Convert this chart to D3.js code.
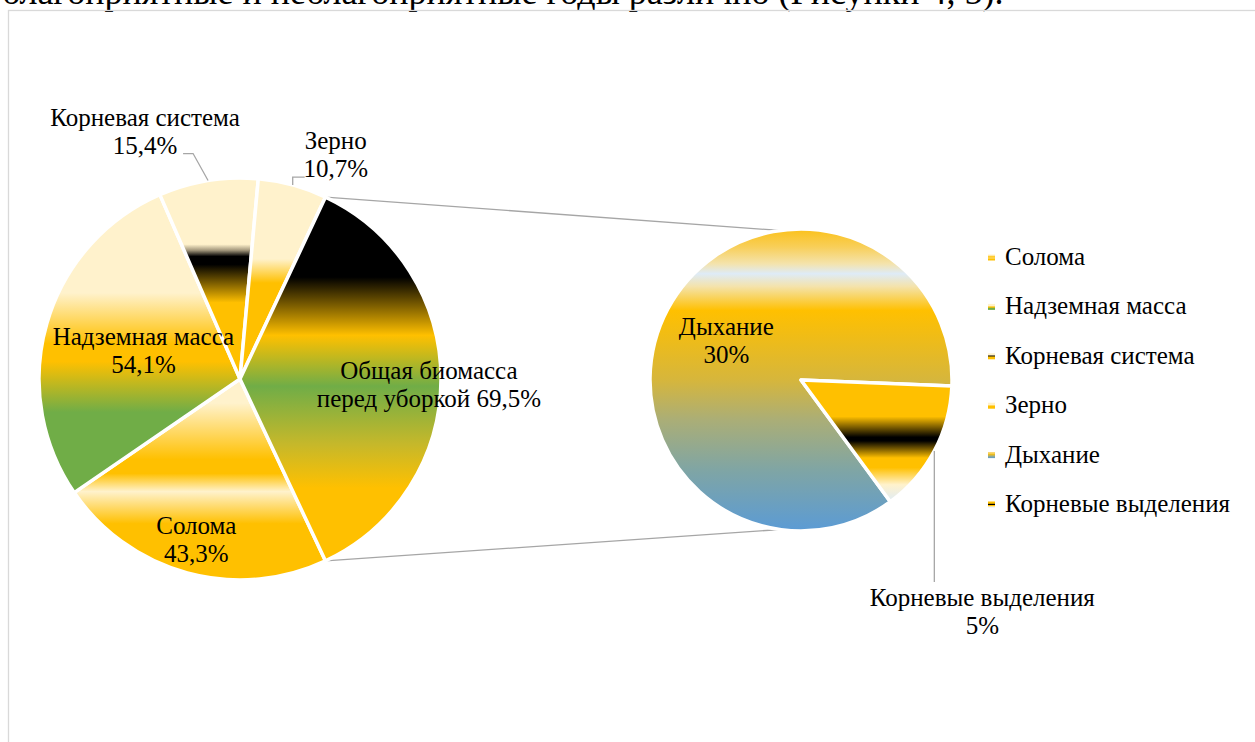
<!DOCTYPE html>
<html>
<head>
<meta charset="utf-8">
<script src="https://cdn.jsdelivr.net/npm/d3@7"></script>
<style>
  html, body { margin: 0; padding: 0; background: #fff; }
  svg { display: block; font-family: "Liberation Serif", serif; }
</style>
</head>
<body>
<svg id="chart" width="1255" height="742"></svg>
<script>
// Main pie: the last category is broken out into the secondary pie
const primaryNames = ["Солома", "Надземная масса", "Корневая система", "Зерно", "Общая биомасса перед уборкой"];
const primaryValues = [43.3, 54.1, 15.4, 10.7, 69.5];

// Secondary pie
const secondaryNames = ["Дыхание", "Корневые выделения"];
const secondaryValues = [30, 5];

// Legend entries, top to bottom
const legendNames = ["Солома", "Надземная масса", "Корневая система", "Зерно", "Дыхание", "Корневые выделения"];

// Line of body text above the chart frame
const captionText = "благоприятные и неблагоприятные годы различно (Рисунки 4, 5).";

// ---- styling ----
const FONT = "Liberation Serif, serif";
const FS = 25;         // label font size
const LH = 28;         // label line height

// vertical gradient fills per category (offset, colour)
const fills = {
  "Солома": [[0, "#fff2cc"], [0.12, "#fff2cc"], [0.4, "#ffc000"], [0.47, "#ffc000"], [0.56, "#fff2cc"], [0.72, "#ffc000"], [1, "#ffc000"]],
  "Надземная масса": [[0, "#fff2cc"], [0.33, "#fff2cc"], [0.5, "#ffc000"], [0.56, "#ffc000"], [0.73, "#70ad47"], [1, "#70ad47"]],
  "Корневая система": [[0, "#fff2cc"], [0.33, "#fff2cc"], [0.36, "#a0957a"], [0.39, "#000000"], [0.43, "#000000"], [0.62, "#ffc000"], [1, "#ffc000"]],
  "Зерно": [[0, "#fff2cc"], [0.4, "#fff2cc"], [0.52, "#ffc000"], [1, "#ffc000"]],
  "Общая биомасса перед уборкой": [[0, "#000000"], [0.22, "#000000"], [0.38, "#ffc000"], [0.52, "#70ad47"], [0.68, "#c6b82a"], [0.8, "#ffc000"], [1, "#ffc000"]],
  "Дыхание": [[0, "#fbc11a"], [0.06, "#f8cf5a"], [0.115, "#f4e3ac"], [0.148, "#deebf7"], [0.19, "#f4e3ac"], [0.27, "#ffc000"], [0.5, "#d6b63c"], [0.63, "#abae76"], [0.8, "#7fa5a5"], [1, "#5b9bd5"]],
  "Корневые выделения": [[0, "#ffc000"], [0.3, "#ffc000"], [0.47, "#000000"], [0.5, "#000000"], [0.64, "#ffc000"], [0.72, "#ffc000"], [0.86, "#fff2cc"], [1, "#deebf7"]]
};

// label line breaks for long names
const nameLines = {
  "Общая биомасса перед уборкой": ["Общая биомасса", "перед уборкой"]
};

// label placement: inside labels sit on a ring (k * radius), outside labels hang off the slice edge
const labelStyle = {
  "Солома": { mode: "inside", k: 0.83, dy: 0 },
  "Надземная масса": { mode: "inside", k: 0.5, dy: 0 },
  "Общая биомасса перед уборкой": { mode: "inside", k: 0.94, dy: 6 },
  "Дыхание": { mode: "inside", k: 0.56, dy: 0 },
  "Корневая система": { mode: "outside", textDx: -63, baseDy: -55, leader: [[-15, -27], [-25, -27]] },
  "Зерно": { mode: "outside", textDx: 43, baseDy: -36, leader: [[0, -8], [12, -8]] },
  "Корневые выделения": { mode: "outside", textDx: 48, baseDy: 155, leader: [[0, 131]] }
};

const primary = { cx: 240, cy: 379, r: 201 };
const secondary = { cx: 801, cy: 380, r: 151 };
const secondaryMidSmall = 118 * Math.PI / 180;   // direction of the small slice in the secondary pie

const svg = d3.select("#chart");
const defs = svg.append("defs");

Object.keys(fills).forEach((name, i) => {
  const grad = defs.append("linearGradient")
    .attr("id", "fill" + i)
    .attr("x1", 0).attr("y1", 0).attr("x2", 0).attr("y2", 1);
  fills[name].forEach(([o, c]) => grad.append("stop").attr("offset", o).attr("stop-color", c));
});
const fillId = name => "url(#fill" + Object.keys(fills).indexOf(name) + ")";

// body text line, partly above the page edge
svg.append("text")
  .attr("x", 2).attr("y", 4)
  .attr("font-family", FONT).attr("font-size", 36)
  .attr("fill", "#000")
  .text(captionText);

// chart frame
svg.append("rect")
  .attr("x", 8.5).attr("y", 10.5)
  .attr("width", 1270).attr("height", 760)
  .attr("fill", "none")
  .attr("stroke", "#d9d9d9").attr("stroke-width", 1.3);

const fmtPrimary = v => d3.format(".1f")(v).replace(".", ",") + "%";
const fmtSecondary = v => d3.format(".0f")(v) + "%";

function labelText(name, value, fmt) {
  const lines = (nameLines[name] || [name]).slice();
  if (lines.length > 1) lines[lines.length - 1] += " " + fmt(value);
  else lines.push(fmt(value));
  return lines;
}

function styledText(sel) {
  return sel.attr("font-family", FONT).attr("font-size", FS).attr("fill", "#000");
}

function drawText(g, lines, x, baseline1) {
  const t = styledText(g.append("text")).attr("text-anchor", "middle");
  lines.forEach((ln, i) => t.append("tspan").attr("x", x).attr("y", baseline1 + i * LH).text(ln));
}

function drawPie(spec, names, values, startAngle, fmt) {
  const rows = names.map((n, i) => ({ name: n, value: values[i] }));
  const pie = d3.pie().sort(null).value(d => d.value)
    .startAngle(startAngle).endAngle(startAngle + 2 * Math.PI);
  const arcs = pie(rows);
  const arc = d3.arc().innerRadius(0).outerRadius(spec.r);
  const g = svg.append("g").attr("transform", `translate(${spec.cx},${spec.cy})`);

  g.selectAll("path.slice").data(arcs).join("path")
    .attr("class", "slice")
    .attr("d", arc)
    .attr("fill", d => fillId(d.data.name))
    .attr("stroke", "#fff").attr("stroke-width", 3.5)
    .attr("stroke-linejoin", "round");

  arcs.forEach(d => {
    const st = labelStyle[d.data.name];
    const lines = labelText(d.data.name, d.data.value, fmt);
    if (st.mode === "inside") {
      const ring = d3.arc().innerRadius(st.k * spec.r).outerRadius(st.k * spec.r);
      const [x, y] = ring.centroid(d);
      const b1 = y + st.dy - (lines.length * LH) / 2 + LH / 2 + 0.33 * FS;
      drawText(g, lines, x, b1);
    } else {
      const edge = d3.arc().innerRadius(spec.r).outerRadius(spec.r).centroid(d);
      const pts = [edge].concat(st.leader.map(([dx, dy]) => [edge[0] + dx, edge[1] + dy]));
      g.append("path")
        .attr("d", d3.line()(pts))
        .attr("fill", "none")
        .attr("stroke", "#a6a6a6").attr("stroke-width", 1.3);
      drawText(g, lines, edge[0] + st.textDx, edge[1] + st.baseDy);
    }
  });
  return arcs;
}

// main pie: broken-out slice centred on the right-hand side
const primaryTotal = d3.sum(primaryValues);
const otherSpan = 2 * Math.PI * primaryValues[primaryValues.length - 1] / primaryTotal;
const primaryStart = Math.PI / 2 + otherSpan / 2;

// secondary pie: small slice pointing down-right
const secondaryTotal = d3.sum(secondaryValues);
const smallSpan = 2 * Math.PI * secondaryValues[1] / secondaryTotal;
const secondaryStart = secondaryMidSmall + smallSpan / 2;

// connector lines between the broken-out slice and the secondary pie
const polar = (spec, a) => [spec.cx + spec.r * Math.sin(a), spec.cy - spec.r * Math.cos(a)];
const tilt = 8 * Math.PI / 180;
const connectors = [
  [polar(primary, Math.PI / 2 - otherSpan / 2), polar(secondary, -tilt)],
  [polar(primary, Math.PI / 2 + otherSpan / 2), polar(secondary, Math.PI + tilt)]
];
svg.append("g").selectAll("path").data(connectors).join("path")
  .attr("d", d => d3.line()(d))
  .attr("fill", "none")
  .attr("stroke", "#a6a6a6").attr("stroke-width", 1.3);

drawPie(primary, primaryNames, primaryValues, primaryStart, fmtPrimary);
drawPie(secondary, secondaryNames, secondaryValues, secondaryStart, fmtSecondary);

// legend
const legendY = d3.scalePoint().domain(legendNames).range([265, 512]);
const legend = svg.append("g");
legendNames.forEach(name => {
  const y = legendY(name);
  legend.append("rect")
    .attr("x", 988).attr("y", y - 10.5)
    .attr("width", 7).attr("height", 6)
    .attr("fill", fillId(name));
  styledText(legend.append("text"))
    .attr("x", 1005).attr("y", y)
    .text(name);
});
</script>
</body>
</html>
